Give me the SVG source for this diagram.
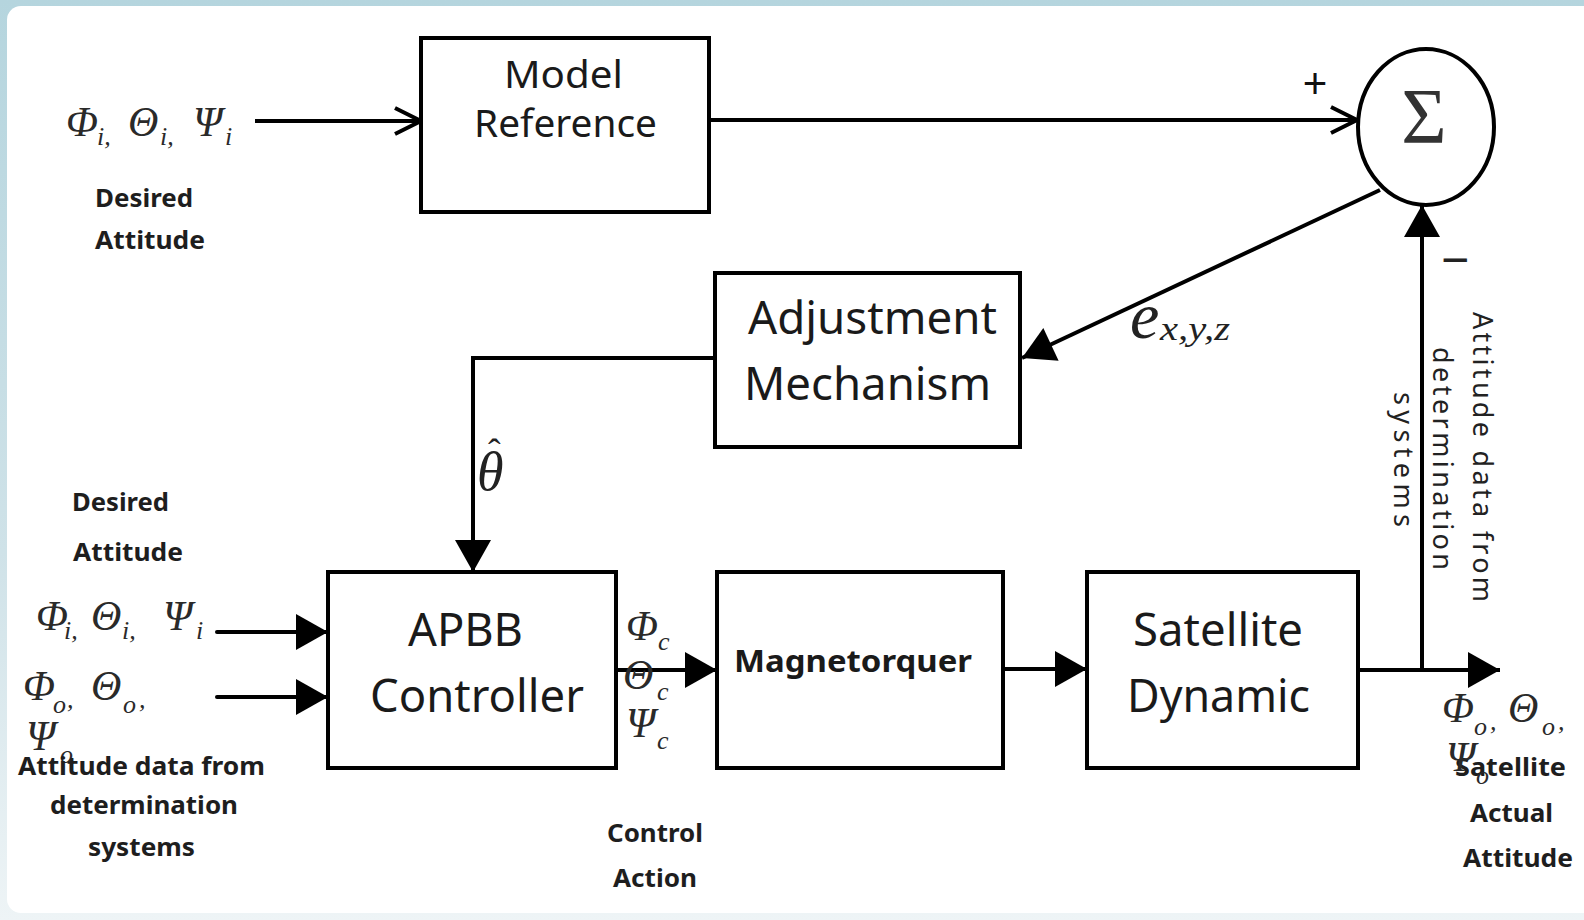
<svg xmlns="http://www.w3.org/2000/svg" width="1584" height="920" viewBox="0 0 1584 920">
  <defs>
    <linearGradient id="frame" x1="0" y1="0" x2="0" y2="1">
      <stop offset="0" stop-color="#b5d5de"/>
      <stop offset="0.6" stop-color="#cfe2e8"/>
      <stop offset="1" stop-color="#eef4f6"/>
    </linearGradient>
    <!-- filled triangular arrowhead, tip at the path end -->
    <marker id="solid" markerUnits="userSpaceOnUse" markerWidth="34" markerHeight="36" refX="32" refY="18" orient="auto" overflow="visible">
      <path d="M0,0 L32,18 L0,36 Z" fill="#000"/>
    </marker>
    <!-- open chevron arrowhead -->
    <marker id="open" markerUnits="userSpaceOnUse" markerWidth="30" markerHeight="30" refX="26" refY="13" orient="auto" overflow="visible">
      <path d="M0,0 L26,13 L0,26" fill="none" stroke="#000" stroke-width="4" stroke-linejoin="miter"/>
    </marker>
    <style>
      .box { fill: #fff; stroke: #000; stroke-width: 4; }
      .wire { fill: none; stroke: #000; stroke-width: 4; }
      .lbl { font-family: "Noto Sans", "Open Sans", sans-serif; fill: #1a1a1a; }
      .note { font-family: "Noto Sans", "Liberation Sans", sans-serif; font-weight: bold; font-size: 25px; fill: #1e1e1e; }
      .gk { font-family: "Liberation Serif", "DejaVu Serif", serif; font-style: italic; font-size: 42px; fill: #2a2a2a; }
      .sb { font-size: 26px; }
    </style>
  </defs>

  <!-- page frame -->
  <rect x="0" y="0" width="1584" height="920" fill="url(#frame)"/>
  <rect x="7" y="6" width="1590" height="907" rx="14" fill="#fff"/>

  <!-- connectors -->
  <g id="connectors">
    <line class="wire" x1="255" y1="121" x2="421" y2="121" marker-end="url(#open)"/>
    <line class="wire" x1="709" y1="120" x2="1357" y2="120" marker-end="url(#open)"/>
    <line class="wire" x1="1380" y1="190" x2="1022" y2="358" marker-end="url(#solid)"/>
    <polyline class="wire" points="715,358 473,358 473,572" marker-end="url(#solid)"/>
    <line class="wire" x1="217" y1="632" x2="328" y2="632" stroke-linecap="round" marker-end="url(#solid)"/>
    <line class="wire" x1="217" y1="697" x2="328" y2="697" stroke-linecap="round" marker-end="url(#solid)"/>
    <line class="wire" x1="615" y1="670" x2="717" y2="670" marker-end="url(#solid)"/>
    <line class="wire" x1="1003" y1="669" x2="1087" y2="669" marker-end="url(#solid)"/>
    <line class="wire" x1="1358" y1="670" x2="1500" y2="670" marker-end="url(#solid)"/>
    <line class="wire" x1="1422" y1="670" x2="1422" y2="205" marker-end="url(#solid)"/>
  </g>

  <!-- blocks -->
  <g id="model-reference">
    <rect class="box" x="421" y="38" width="288" height="174"/>
    <text class="lbl" x="504" y="88" font-size="39" textLength="119" lengthAdjust="spacingAndGlyphs">Model</text>
    <text class="lbl" x="474" y="137" font-size="39" textLength="183" lengthAdjust="spacingAndGlyphs">Reference</text>
  </g>

  <g id="summer">
    <ellipse cx="1426" cy="127" rx="68" ry="78" fill="#fff" stroke="#000" stroke-width="4"/>
    <text x="1424" y="142" text-anchor="middle" font-family="Liberation Serif, serif" font-size="78" fill="#333">Σ</text>
    <text x="1315" y="98" text-anchor="middle" font-family="Liberation Sans, sans-serif" font-size="42" fill="#111">+</text>
    <text x="1455" y="276" text-anchor="middle" font-family="Liberation Sans, sans-serif" font-size="48" fill="#222">−</text>
  </g>

  <g id="adjustment-mechanism">
    <rect class="box" x="715" y="273" width="305" height="174"/>
    <text class="lbl" x="748" y="334" font-size="45" textLength="249" lengthAdjust="spacingAndGlyphs">Adjustment</text>
    <text class="lbl" x="744" y="400" font-size="45" textLength="247" lengthAdjust="spacingAndGlyphs">Mechanism</text>
  </g>

  <g id="apbb-controller">
    <rect class="box" x="328" y="572" width="288" height="196"/>
    <text class="lbl" x="408" y="646" font-size="45" textLength="115" lengthAdjust="spacingAndGlyphs">APBB</text>
    <text class="lbl" x="370" y="712" font-size="45" textLength="214" lengthAdjust="spacingAndGlyphs">Controller</text>
  </g>

  <g id="magnetorquer">
    <rect class="box" x="717" y="572" width="286" height="196"/>
    <text class="lbl" x="734" y="672" font-size="31" font-weight="bold" textLength="238" lengthAdjust="spacingAndGlyphs">Magnetorquer</text>
  </g>

  <g id="satellite-dynamic">
    <rect class="box" x="1087" y="572" width="271" height="196"/>
    <text class="lbl" x="1133" y="646" font-size="45" textLength="170" lengthAdjust="spacingAndGlyphs">Satellite</text>
    <text class="lbl" x="1127" y="712" font-size="45" textLength="183" lengthAdjust="spacingAndGlyphs">Dynamic</text>
  </g>

  <!-- signal labels -->
  <g id="desired-input-top">
    <text class="gk" y="136"><tspan x="66">Φ</tspan><tspan class="sb" x="97" y="145">i,</tspan><tspan x="128" y="136">Θ</tspan><tspan class="sb" x="160" y="145">i,</tspan><tspan x="193" y="136">Ψ</tspan><tspan class="sb" x="225" y="145">i</tspan></text>
    <text class="note" x="95" y="207" textLength="98" lengthAdjust="spacingAndGlyphs">Desired</text>
    <text class="note" x="95" y="249" textLength="110" lengthAdjust="spacingAndGlyphs">Attitude</text>
  </g>

  <g id="desired-input-bottom">
    <text class="note" x="72" y="511" textLength="97" lengthAdjust="spacingAndGlyphs">Desired</text>
    <text class="note" x="73" y="561" textLength="110" lengthAdjust="spacingAndGlyphs">Attitude</text>
    <text class="gk" y="630"><tspan x="36">Φ</tspan><tspan class="sb" x="64" y="639">i,</tspan><tspan x="91" y="630">Θ</tspan><tspan class="sb" x="122" y="639">i,</tspan><tspan x="163" y="630">Ψ</tspan><tspan class="sb" x="196" y="639">i</tspan></text>
  </g>

  <g id="measured-input">
    <text class="gk" y="700"><tspan x="23">Φ</tspan><tspan class="sb" x="53" y="713">o</tspan><tspan class="sb" x="67" y="708">,</tspan><tspan x="91" y="700">Θ</tspan><tspan class="sb" x="123" y="713">o</tspan><tspan class="sb" x="139" y="708">,</tspan></text>
    <text class="gk" y="750"><tspan x="26">Ψ</tspan><tspan class="sb" x="60" y="763">o</tspan></text>
    <text class="note" x="18" y="775" textLength="247" lengthAdjust="spacingAndGlyphs">Attitude data from</text>
    <text class="note" x="50" y="814" textLength="188" lengthAdjust="spacingAndGlyphs">determination</text>
    <text class="note" x="88" y="856" textLength="107" lengthAdjust="spacingAndGlyphs">systems</text>
  </g>

  <g id="control-action">
    <text class="gk" y="640"><tspan x="626">Φ</tspan><tspan class="sb" x="658" y="650">c</tspan></text>
    <text class="gk" y="689"><tspan x="623">Θ</tspan><tspan class="sb" x="657" y="700">c</tspan></text>
    <text class="gk" y="737"><tspan x="626">Ψ</tspan><tspan class="sb" x="657" y="749">c</tspan></text>
    <text class="note" x="607" y="842" textLength="96" lengthAdjust="spacingAndGlyphs">Control</text>
    <text class="note" x="613" y="887" textLength="84" lengthAdjust="spacingAndGlyphs">Action</text>
  </g>

  <g id="parameter-estimate">
    <text x="477" y="490" font-family="Liberation Serif, serif" font-style="italic" font-size="54" fill="#222">θ</text>
    <text x="488" y="465" font-family="Liberation Serif, serif" font-size="38" fill="#222">ˆ</text>
  </g>

  <g id="error-signal">
    <text x="1130" y="338" font-family="Liberation Serif, serif" font-style="italic" font-size="66" fill="#222">e</text>
    <text x="1160" y="340" font-family="Liberation Serif, serif" font-style="italic" font-size="34" fill="#222" textLength="70" lengthAdjust="spacingAndGlyphs">x,y,z</text>
  </g>

  <g id="feedback-label">
    <g font-family="Noto Sans, Liberation Sans, sans-serif" font-size="27" fill="#222">
      <text transform="translate(1473,312) rotate(90)" textLength="290" lengthAdjust="spacing">Attitude data from</text>
      <text transform="translate(1433,347) rotate(90)" textLength="223" lengthAdjust="spacing">determination</text>
      <text transform="translate(1394,392) rotate(90)" textLength="135" lengthAdjust="spacing">systems</text>
    </g>
  </g>

  <g id="actual-output">
    <text class="note" x="1455" y="776" textLength="111" lengthAdjust="spacingAndGlyphs">Satellite</text>
    <text class="gk" y="722"><tspan x="1442">Φ</tspan><tspan class="sb" x="1474" y="735">o</tspan><tspan class="sb" x="1490" y="730">,</tspan><tspan x="1508" y="722">Θ</tspan><tspan class="sb" x="1542" y="735">o</tspan><tspan class="sb" x="1558" y="730">,</tspan></text>
    <text class="gk" y="771"><tspan x="1446">Ψ</tspan><tspan class="sb" x="1476" y="784">o</tspan></text>
    <text class="note" x="1470" y="822" textLength="83" lengthAdjust="spacingAndGlyphs">Actual</text>
    <text class="note" x="1463" y="867" textLength="110" lengthAdjust="spacingAndGlyphs">Attitude</text>
  </g>
</svg>
